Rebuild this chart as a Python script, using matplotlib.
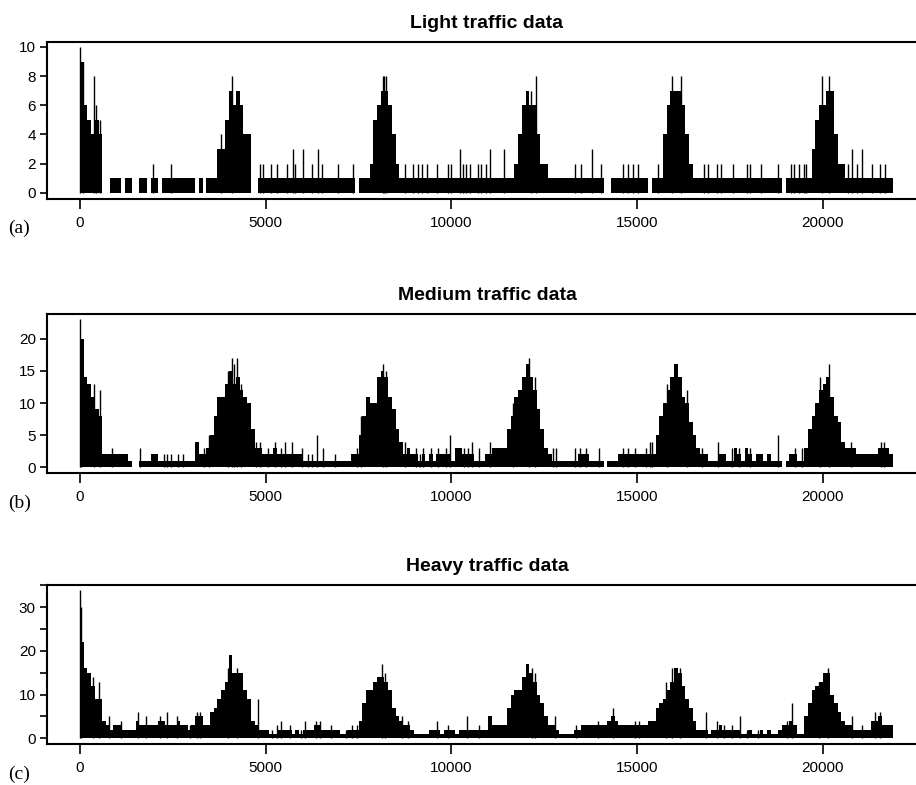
import numpy as np
import matplotlib
matplotlib.use("Agg")
import matplotlib.pyplot as plt

plt.rcParams['font.family'] = ['Liberation Sans', 'DejaVu Sans']

# ---------------- data (counts per 100-unit bin) ----
bin_width = 100

light_values = [
    9, 6, 5, 4, 5, 4, 0, 0, 1, 1,
    1, 0, 1, 1, 0, 0, 1, 1, 0, 1,
    1, 0, 1, 1, 1, 1, 1, 1, 1, 1,
    1, 0, 1, 0, 1, 1, 1, 3, 3, 5,
    7, 6, 7, 6, 4, 4, 0, 0, 1, 1,
    1, 1, 1, 1, 1, 1, 1, 1, 1, 1,
    1, 1, 1, 1, 1, 1, 1, 1, 1, 1,
    1, 1, 1, 1, 0, 1, 1, 1, 2, 5,
    6, 7, 7, 6, 4, 2, 1, 1, 1, 1,
    1, 1, 1, 1, 1, 1, 1, 1, 1, 1,
    1, 1, 1, 1, 1, 1, 1, 1, 1, 1,
    1, 1, 1, 1, 1, 1, 1, 2, 4, 6,
    7, 6, 6, 4, 2, 2, 1, 1, 1, 1,
    1, 1, 1, 1, 1, 1, 1, 1, 1, 1,
    1, 0, 0, 1, 1, 1, 1, 1, 1, 1,
    1, 1, 1, 0, 1, 1, 1, 4, 6, 7,
    7, 7, 6, 4, 2, 1, 1, 1, 1, 1,
    1, 1, 1, 1, 1, 1, 1, 1, 1, 1,
    1, 1, 1, 1, 1, 1, 1, 1, 1, 0,
    1, 1, 1, 1, 1, 1, 1, 3, 5, 6,
    6, 7, 7, 4, 2, 2, 1, 1, 1, 1,
    1, 1, 1, 1, 1, 1, 1, 1, 1,
]

medium_values = [
    20, 14, 13, 11, 9, 8, 2, 2, 2, 2,
    2, 2, 2, 1, 0, 0, 1, 1, 1, 2,
    2, 1, 1, 1, 1, 1, 1, 1, 1, 1,
    1, 4, 2, 2, 3, 5, 8, 11, 11, 13,
    15, 13, 14, 12, 11, 10, 6, 3, 3, 2,
    2, 2, 3, 2, 2, 2, 2, 2, 2, 2,
    1, 1, 1, 1, 1, 1, 1, 1, 1, 1,
    1, 1, 1, 2, 2, 5, 8, 11, 10, 10,
    14, 15, 14, 11, 9, 6, 4, 2, 3, 2,
    2, 1, 2, 1, 2, 1, 2, 2, 2, 2,
    1, 3, 3, 2, 2, 2, 1, 1, 1, 2,
    2, 3, 3, 3, 3, 6, 8, 11, 12, 14,
    16, 14, 12, 9, 6, 3, 2, 1, 1, 1,
    1, 1, 1, 1, 2, 2, 2, 1, 1, 1,
    1, 0, 1, 1, 1, 2, 2, 2, 2, 2,
    2, 2, 2, 2, 2, 5, 8, 10, 12, 14,
    16, 14, 11, 10, 7, 5, 3, 2, 2, 1,
    1, 1, 2, 2, 1, 1, 3, 2, 1, 3,
    2, 1, 2, 2, 1, 2, 1, 1, 1, 0,
    1, 2, 2, 1, 1, 3, 6, 8, 10, 12,
    13, 14, 11, 8, 7, 4, 3, 3, 3, 2,
    2, 2, 2, 2, 2, 3, 3, 3, 2,
]

heavy_values = [
    22, 16, 15, 12, 9, 9, 4, 3, 2, 3,
    3, 2, 2, 2, 2, 4, 3, 3, 3, 3,
    3, 4, 4, 3, 3, 3, 4, 3, 3, 2,
    3, 5, 5, 3, 3, 6, 7, 9, 11, 13,
    19, 15, 15, 15, 11, 9, 4, 3, 2, 2,
    2, 1, 1, 2, 2, 2, 2, 1, 2, 1,
    2, 2, 2, 3, 3, 2, 2, 2, 2, 2,
    1, 1, 2, 2, 2, 4, 8, 11, 11, 13,
    14, 14, 13, 11, 7, 5, 4, 3, 3, 2,
    1, 1, 1, 1, 2, 2, 2, 1, 2, 2,
    2, 1, 2, 2, 2, 2, 2, 2, 2, 2,
    5, 3, 3, 3, 3, 7, 10, 11, 11, 14,
    17, 15, 13, 10, 8, 5, 3, 3, 2, 1,
    1, 1, 1, 2, 2, 3, 3, 3, 3, 3,
    3, 3, 4, 5, 4, 3, 3, 3, 3, 3,
    3, 3, 3, 4, 4, 7, 8, 9, 11, 13,
    16, 15, 12, 9, 7, 4, 2, 2, 2, 1,
    2, 2, 3, 2, 2, 2, 2, 2, 1, 1,
    2, 1, 1, 2, 1, 2, 1, 1, 2, 3,
    3, 4, 3, 1, 1, 5, 8, 11, 12, 13,
    15, 15, 10, 8, 6, 4, 3, 3, 2, 2,
    2, 2, 2, 4, 4, 5, 3, 3, 3,
]

# thin single-observation spikes: time index, count
light_spike_t = [5, 72, 386, 420, 540, 1975, 2442, 3790, 4105, 4850, 4920, 5140, 5315,
                 5566, 5745, 5800, 6013, 6239, 6419, 6508, 6957, 7361, 8150, 8200, 8250,
                 8752, 8977, 9112, 9202, 9336, 9605, 9920, 10000, 10225, 10314, 10404,
                 10494, 10718, 10808, 10943, 11050, 11418, 12150, 12290, 13321, 13500,
                 13790, 14020, 14620, 14755, 14890, 15027, 15565, 15930, 16190, 16810,
                 16900, 17150, 17250, 17575, 17950, 18050, 18340, 18790, 19150, 19240,
                 19375, 19510, 19555, 19990, 20170, 20690, 20780, 20915, 21050, 21320,
                 21545, 21680]
light_spike_h = [10, 9, 8, 6, 5, 2, 2, 4, 8, 2, 2, 2, 2,
                 2, 3, 2, 3, 2, 3, 2, 2, 2, 8, 8, 8,
                 2, 2, 2, 2, 2, 2, 2, 2, 3, 2, 2,
                 2, 2, 2, 2, 3, 3, 7, 8, 2, 2,
                 3, 2, 2, 2, 2, 2, 2, 8, 8, 2,
                 2, 2, 2, 2, 2, 2, 2, 2, 2, 2,
                 2, 2, 2, 8, 8, 2, 3, 2, 3, 2,
                 2, 2]

medium_spike_t = [10, 40, 370, 540, 853, 1620, 2250, 2350, 2450, 2650, 2780, 3350, 3480,
                  3980, 4080, 4150, 4220, 4330, 4750, 4850, 5050, 5250, 5420, 5530, 5720,
                  5980, 6150, 6250, 6380, 6550, 6870, 7450, 7580, 8150, 8240, 8750, 9050,
                  9150, 9250, 9450, 9650, 9850, 9964, 10350, 10450, 10548, 10750, 11041,
                  11650, 12080, 12250, 12750, 12828, 13321, 13456, 13636, 13990, 14620,
                  14750, 14950, 15250, 15340, 15400, 15820, 16350, 16750, 17190, 17550,
                  17750, 18050, 18806, 19250, 19450, 19930, 20170, 20750, 21570, 21660]
medium_spike_h = [23, 20, 13, 12, 3, 3, 2, 2, 2, 2, 2, 3, 5,
                  15, 17, 16, 17, 13, 4, 4, 3, 4, 3, 4, 4,
                  3, 2, 2, 5, 3, 2, 3, 8, 16, 15, 4, 3,
                  2, 3, 3, 3, 3, 5, 3, 3, 4, 3, 4,
                  10, 17, 14, 3, 3, 3, 3, 3, 3, 3,
                  3, 3, 3, 4, 4, 13, 12, 3, 4, 3,
                  3, 3, 5, 3, 3, 14, 16, 4, 4, 4]

heavy_spike_t = [5, 30, 341, 520, 790, 1100, 1571, 1768, 2154, 2334, 2603, 2950, 3150,
                 3240, 3980, 4220, 4780, 5180, 5300, 5420, 5650, 5950, 6060, 6350, 6450,
                 6750, 7150, 7320, 7450, 8124, 8215, 8660, 8840, 9605, 9920, 10413, 10750,
                 12163, 12250, 12790, 13350, 13950, 14363, 14950, 15050, 15780, 15950,
                 16150, 16860, 17150, 17350, 17550, 17775, 17950, 18250, 19050, 19180,
                 19890, 20152, 20780, 21050, 21410, 21550]
heavy_spike_h = [34, 30, 14, 13, 5, 4, 6, 5, 5, 6, 5, 3, 6,
                 6, 16, 16, 9, 2, 3, 4, 3, 2, 4, 4, 4,
                 3, 2, 3, 3, 17, 15, 5, 4, 4, 3, 5, 3,
                 16, 15, 5, 3, 4, 7, 4, 4, 13, 16,
                 16, 6, 4, 3, 3, 5, 2, 2, 4, 8,
                 13, 16, 5, 3, 6, 6]

titles = ["Light traffic data", "Medium traffic data", "Heavy traffic data"]
panel_tags = ["(a)", "(b)", "(c)"]
x_ticks = [0, 5000, 10000, 15000, 20000]
light_yticks = [0, 2, 4, 6, 8, 10]
medium_yticks = [0, 5, 10, 15, 20]
heavy_yticks = [0, 5, 10, 15, 20, 25, 30, 35]
heavy_ylabels = ["0", "", "10", "", "20", "", "30", ""]

# ---------------- figure ----------------
W, H = 916, 785
fig = plt.figure(figsize=(W / 100, H / 100), dpi=100)


def rect(left, top, right, bottom):
    return [left / W, 1 - bottom / H, (right - left) / W, (bottom - top) / H]


panels = [
    dict(vals=light_values, st=light_spike_t, sh=light_spike_h,
         rect=rect(47, 41.7, 927, 199), ylim=(-0.43, 10.36),
         yt=light_yticks, yl=[str(v) for v in light_yticks], tag_y=228),
    dict(vals=medium_values, st=medium_spike_t, sh=medium_spike_h,
         rect=rect(47, 314.3, 927, 473.3), ylim=(-0.93, 23.8),
         yt=medium_yticks, yl=[str(v) for v in medium_yticks], tag_y=503),
    dict(vals=heavy_values, st=heavy_spike_t, sh=heavy_spike_h,
         rect=rect(47, 585, 927, 744), ylim=(-1.3, 35.1),
         yt=heavy_yticks, yl=heavy_ylabels, tag_y=774),
]

for i, p in enumerate(panels):
    ax = fig.add_axes(p["rect"])
    vals = np.asarray(p["vals"], dtype=float)
    edges = np.arange(len(vals) + 1) * bin_width
    ax.fill_between(edges, np.append(vals, vals[-1]), 0, step="post",
                    color="black", linewidth=0, zorder=2)
    ax.vlines(p["st"], 0, p["sh"], color="black", linewidth=1.0, zorder=3)

    ax.set_xlim(-889, 22810)
    ax.set_ylim(*p["ylim"])
    ax.set_xticks(x_ticks)
    ax.set_xticklabels([str(v) for v in x_ticks])
    ax.set_yticks(p["yt"])
    ax.set_yticklabels(p["yl"])
    ax.tick_params(axis="x", direction="out", length=7, width=1.2,
                   labelsize=11, pad=5)
    ax.tick_params(axis="y", direction="out", length=5, width=1.2,
                   labelsize=11, pad=3)
    for s in ["top", "bottom", "left", "right"]:
        ax.spines[s].set_linewidth(1.5)
    ax.set_title(titles[i], fontsize=14, fontweight="bold", pad=10)
    fig.text(8 / W, 1 - p["tag_y"] / H, panel_tags[i], fontsize=14,
             family=["Liberation Serif", "DejaVu Serif"], va="center", ha="left")

fig.savefig("out.png", dpi=100)
